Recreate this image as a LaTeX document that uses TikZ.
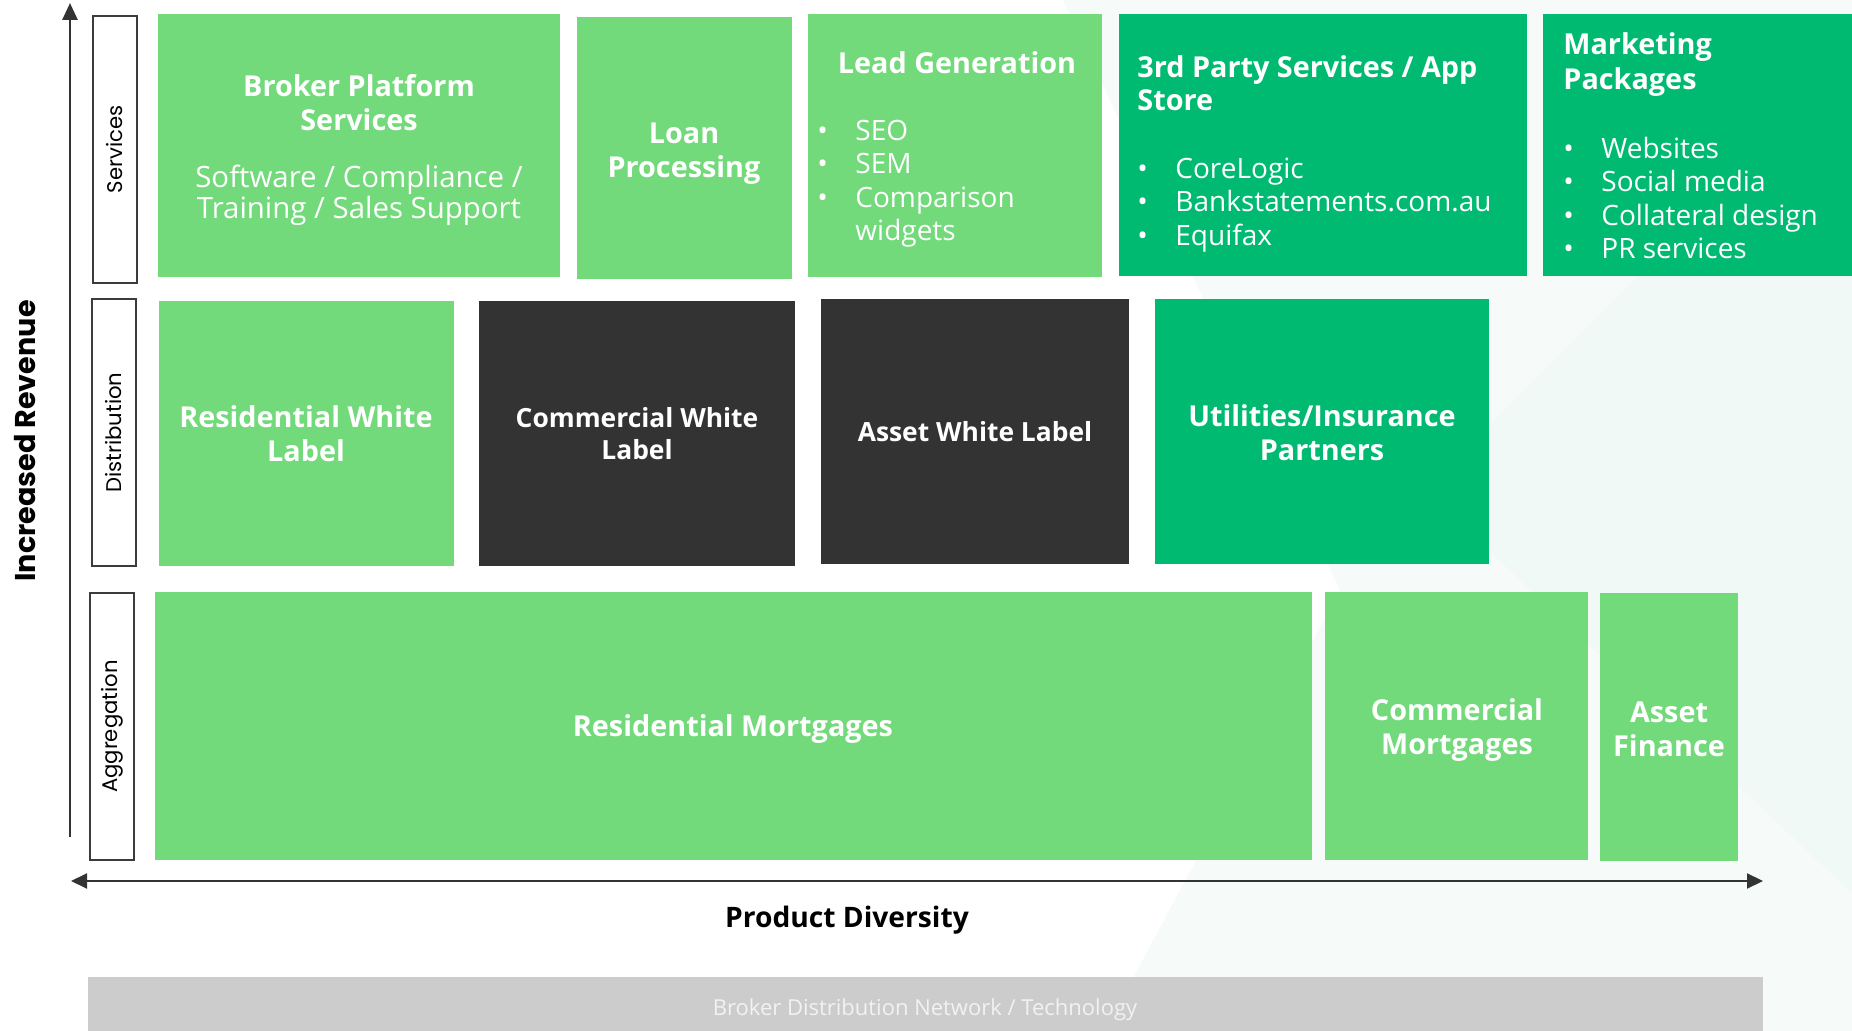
\documentclass[tikz,border=0pt]{standalone}
\usepackage{fontspec}
\setmainfont{Open Sans}
\newfontfamily\lanefont{Poppins}
\usetikzlibrary{arrows.meta}

\definecolor{leaf}{HTML}{72DA7B}
\definecolor{jade}{HTML}{00BA72}
\definecolor{charcoal}{HTML}{333333}
\definecolor{laneedge}{HTML}{3C3C3C}
\definecolor{axisgray}{HTML}{333333}
\definecolor{bargray}{HTML}{CCCCCC}
\definecolor{bartext}{HTML}{F2F2F2}
\definecolor{tintA}{HTML}{F6FAF9}
\definecolor{tintB}{HTML}{F1F9F6}

% filled block: name, colour, x1, y1, x2, y2 (pixel grid, y downwards)
\newcommand{\blocktile}[6]{%
  \node[tile,fill=#2,minimum width={(#5-#3)*0.5pt},minimum height={(#6-#4)*0.5pt},anchor=north west] (#1) at (#3,#4) {};}
\newcommand{\bul}{\makebox[19pt][l]{\textbullet}}
\newcommand{\bulgap}{\hspace*{19pt}}

\begin{document}
\begin{tikzpicture}[x=0.5pt,y=-0.5pt,
  tile/.style={rectangle,inner sep=0pt,outer sep=0pt,draw=none},
  lane/.style={rectangle,draw=laneedge,line width=1pt,fill=white,rotate=90,inner sep=0pt,
    font=\lanefont\fontsize{10.6}{12}\selectfont,text=black},
  head/.style={inner sep=0pt,text=white,align=center,font=\fontsize{14.4}{17}\selectfont\bfseries},
  headsm/.style={head,font=\fontsize{13.2}{16}\selectfont\bfseries},
  headL/.style={inner sep=0pt,text=white,align=left,anchor=north west},
  items/.style={inner sep=0pt,text=white,align=left,anchor=north west,
    font=\fontsize{14}{16.6}\selectfont},
  axisline/.style={draw=axisgray},
]
% canvas and faint background planes
\fill[white] (0,0) rectangle (1852,1031);
\fill[tintA] (1063,0) -- (1852,0) -- (1852,1031) -- (1105,1031) -- (1340,590) -- cycle;
\fill[tintB] (1852,60) -- (1425,490) -- (1852,893) -- cycle;
\useasboundingbox (0,0) rectangle (1852,1031);

% lane labels
\node[lane,minimum width={267*0.5pt},minimum height={44*0.5pt}] (laneS) at (115,149.5) {Services};
\node[lane,minimum width={267*0.5pt},minimum height={44*0.5pt}] (laneD) at (114,432.5) {Distribution};
\node[lane,minimum width={267*0.5pt},minimum height={44*0.5pt}] (laneA) at (112,726.5) {Aggregation};

% services row
\blocktile{broker}{leaf}{158}{14}{560}{277}
\blocktile{loan}{leaf}{577}{17}{792}{279}
\blocktile{lead}{leaf}{808}{14}{1102}{277}
\blocktile{third}{jade}{1119}{14}{1527}{276}
\blocktile{market}{jade}{1543}{14}{1852}{276}

\node[head] (brokerT) at (359,103) {Broker Platform\\Services};
\node[inner sep=0pt,text=white,align=center,font=\fontsize{14.7}{15.5}\selectfont] (brokerS) at (359,195)
  {Software / Compliance /\\Training / Sales Support};
\node[head] (loanT) at (684,154) {Loan\\Processing};
\node[head] (leadT) at (957,63) {Lead Generation};
\node[items] (leadL) at (817,117)
  {\strut\bul SEO\\\bul SEM\\\bul Comparison\\\bulgap widgets};
\node[headL,font=\fontsize{14.4}{16.5}\selectfont\bfseries] (thirdT) at (1137,54)
  {\strut 3rd Party Services / App\\Store};
\node[items] (thirdL) at (1137,155)
  {\strut\bul CoreLogic\\\bul Bankstatements.com.au\\\bul Equifax};
\node[headL,font=\fontsize{14.4}{17.5}\selectfont\bfseries] (marketT) at (1563,29.5)
  {\strut Marketing\\Packages};
\node[items] (marketL) at (1563,135)
  {\strut\bul Websites\\\bul Social media\\\bul Collateral design\\\bul PR services};

% distribution row
\blocktile{reswl}{leaf}{159}{301}{454}{566}
\blocktile{comwl}{charcoal}{479}{301}{795}{566}
\blocktile{assetwl}{charcoal}{821}{299}{1129}{564}
\blocktile{util}{jade}{1155}{299}{1489}{564}

\node[head] (reswlT) at (306,434) {Residential White\\Label};
\node[headsm] (comwlT) at (637,434) {Commercial White\\Label};
\node[headsm] (assetwlT) at (975,432) {Asset White Label};
\node[head] (utilT) at (1322,433) {Utilities/Insurance\\Partners};

% aggregation row
\blocktile{resm}{leaf}{155}{592}{1312}{860}
\blocktile{comm}{leaf}{1325}{592}{1588}{860}
\blocktile{assetf}{leaf}{1600}{593}{1738}{861}

\node[head] (resmT) at (733,729) {Residential Mortgages};
\node[head] (commT) at (1457,730) {Commercial\\Mortgages};
\node[head] (assetfT) at (1669,729) {Asset\\Finance};

% axes
\coordinate (ybot) at (70,837);
\coordinate (ytop) at (70,3);
\coordinate (xleft) at (71,881);
\coordinate (xright) at (1763,881);
\draw[axisline,line width=1.4pt,-{Triangle[length=8.5pt,width=7.5pt]}] (ybot) -- (ytop);
\draw[axisline,line width=1pt,{Triangle[length=8pt,width=7.5pt]}-{Triangle[length=8pt,width=7.5pt]}] (xleft) -- (xright);

\node[rotate=90,inner sep=0pt,font=\lanefont\fontsize{14.3}{16}\selectfont\bfseries] (yname) at (25,441) {Increased Revenue};
\node[inner sep=0pt,font=\fontsize{14.1}{16}\selectfont\bfseries] (xname) at (847,920) {Product Diversity};

% platform base bar
\blocktile{base}{bargray}{88}{977}{1763}{1031}
\node[inner sep=0pt,text=bartext,font=\fontsize{11}{12}\selectfont] (baseT) at (925,1010)
  {Broker Distribution Network / Technology};
\end{tikzpicture}
\end{document}
